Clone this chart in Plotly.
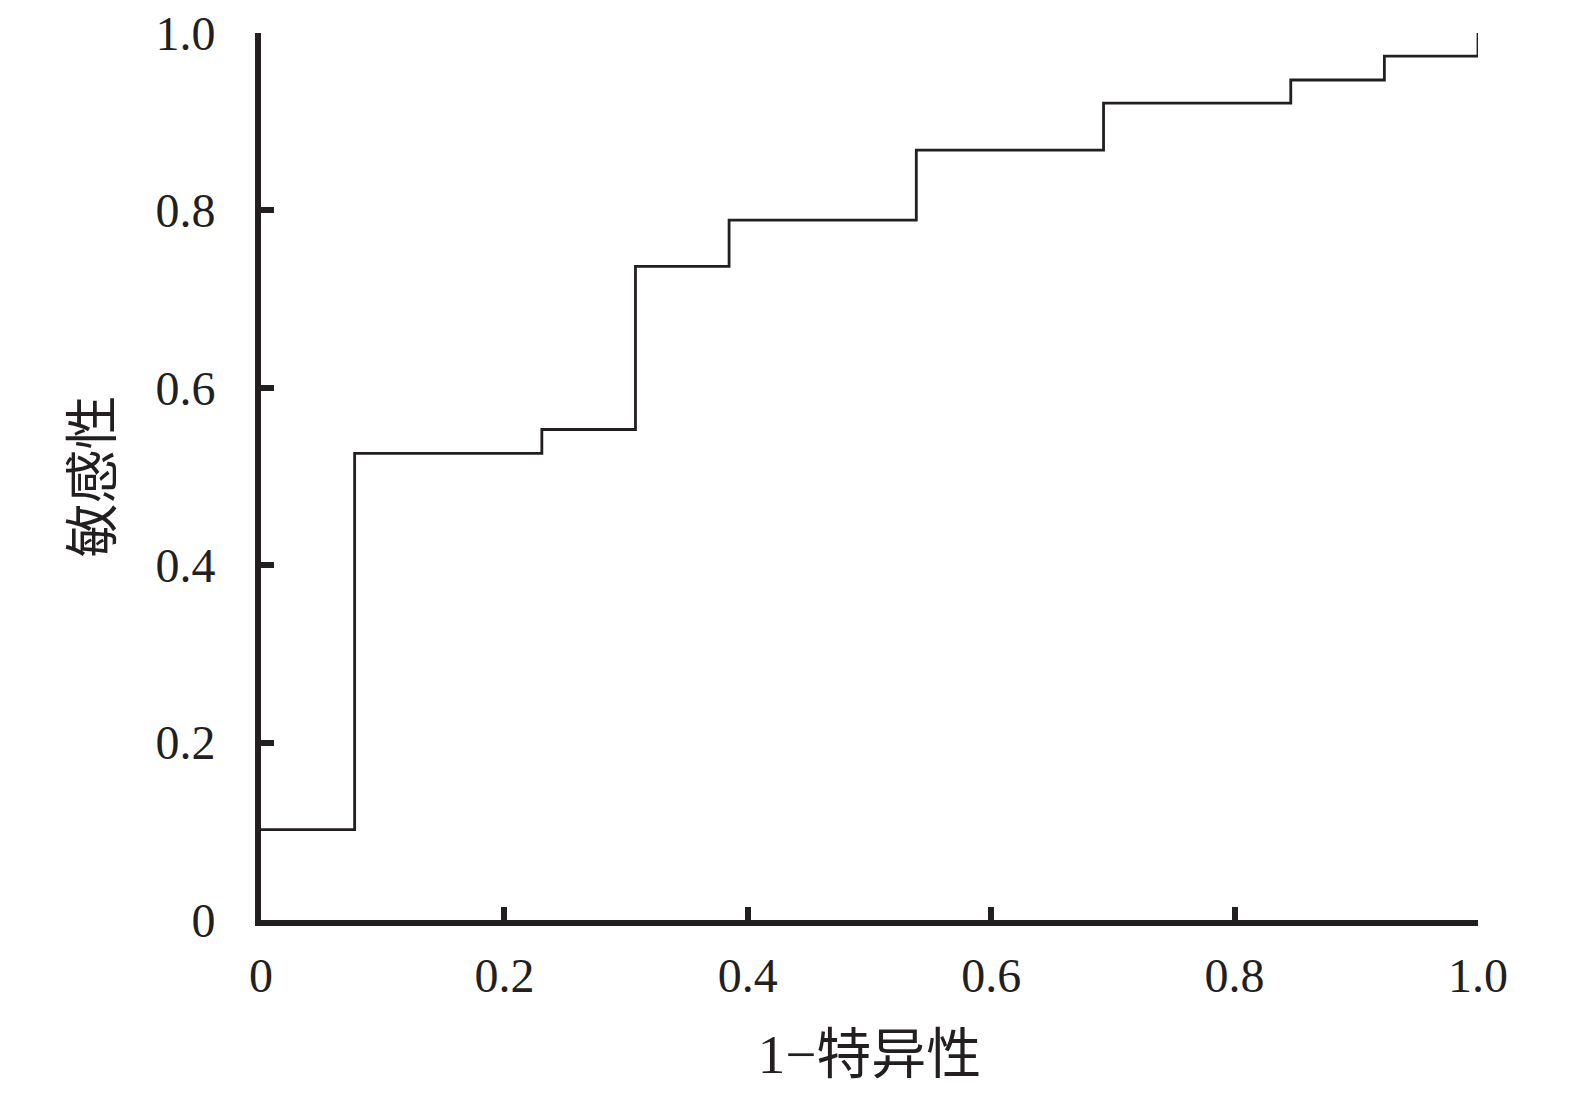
import plotly.graph_objects as go

fpr = [0, 1/13, 3/13, 4/13, 5/13, 7/13, 9/13, 11/13, 12/13, 1.0]
tpr = [0.102, 0.526, 0.553, 0.737, 0.789, 0.868, 0.921, 0.947, 0.974, 1.0]
tick_vals = [0, 0.2, 0.4, 0.6, 0.8, 1.0]
tick_text = ["0", "0.2", "0.4", "0.6", "0.8", "1.0"]

ink = "#231f20"
font_family = "Liberation Serif, Noto Sans CJK SC, serif"

fig = go.Figure()
fig.add_trace(go.Scatter(
    x=fpr, y=tpr, mode="lines", line=dict(color=ink, width=2.8, shape="hv"),
    cliponaxis=False, showlegend=False,
))

axis_common = dict(
    range=[0, 1], tickvals=tick_vals, ticktext=tick_text,
    ticks="inside", ticklen=13, tickwidth=5.5, tickcolor=ink,
    showline=True, linewidth=6, linecolor=ink, showgrid=False, zeroline=False,
    tickfont=dict(family=font_family, size=48, color=ink),
    ticklabeloverflow="allow", automargin=False,
)

fig.update_layout(
    width=1559, height=1077,
    margin=dict(l=253, r=89, t=25, b=165, autoexpand=False),
    paper_bgcolor="white", plot_bgcolor="white",
    xaxis=dict(**axis_common, ticklabelstandoff=8,
               title=dict(text="1−特异性", font=dict(family=font_family, size=55, color=ink), standoff=51)),
    yaxis=dict(**axis_common, ticklabelstandoff=30,
               title=dict(text="敏感性", font=dict(family=font_family, size=54, color=ink), standoff=28)),
)

fig.write_html("out.html")
